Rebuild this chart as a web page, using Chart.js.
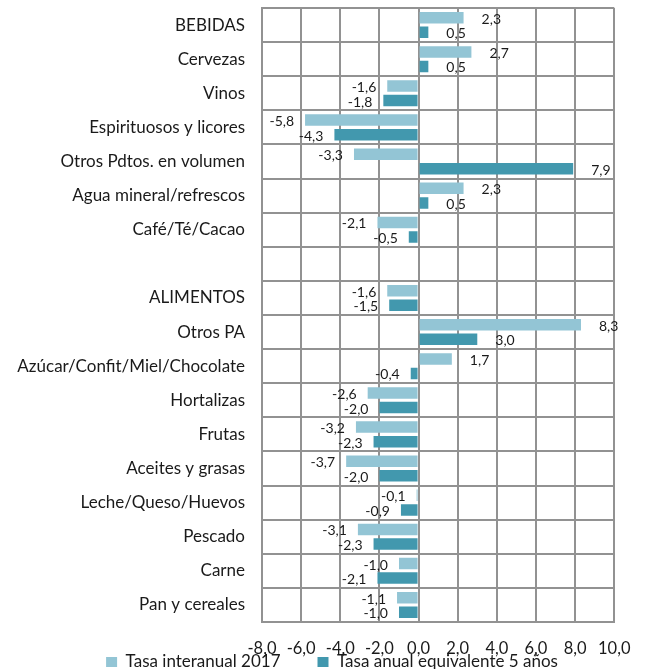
<!DOCTYPE html>
<html>
<head>
<meta charset="utf-8">
<script src="https://cdn.jsdelivr.net/npm/chart.js@4/dist/chart.umd.min.js"></script>
<style>
  body { margin: 0; background: #fff; }
  #wrap { width: 647px; height: 669px; }
</style>
</head>
<body>
<div id="wrap"><canvas id="tasasChart" width="647" height="669"></canvas></div>
<script>
// Categories (empty row separates bebidas / alimentos)
const categorias = [
    'BEBIDAS', 'Cervezas', 'Vinos', 'Espirituosos y licores', 'Otros Pdtos. en volumen',
    'Agua mineral/refrescos', 'Café/Té/Cacao', '',
    'ALIMENTOS', 'Otros PA', 'Azúcar/Confit/Miel/Chocolate', 'Hortalizas', 'Frutas',
    'Aceites y grasas', 'Leche/Queso/Huevos', 'Pescado', 'Carne', 'Pan y cereales'
];
const tasaInteranual2017 = [2.3, 2.7, -1.6, -5.8, -3.3, 2.3, -2.1, null,
    -1.6, 8.3, 1.7, -2.6, -3.2, -3.7, -0.1, -3.1, -1.0, -1.1];
const tasaAnual5Anos = [0.5, 0.5, -1.8, -4.3, 7.9, 0.5, -0.5, null,
    -1.5, 3.0, -0.4, -2.0, -2.3, -2.0, -0.9, -2.3, -2.1, -1.0];
const ejeMin = -8;
const ejeMax = 10;
const ejePaso = 2;

const FONT = 'Lato';
const gridColor = '#929292';

function fmt(v) {
    return v.toFixed(1).replace('.', ',');
}

// Value labels next to the end of each bar
const valueLabels = {
    id: 'valueLabels',
    afterDatasetsDraw(chart) {
        const ctx = chart.ctx;
        ctx.save();
        ctx.font = '14px ' + FONT;
        ctx.fillStyle = '#1a1a1a';
        ctx.textBaseline = 'middle';
        chart.data.datasets.forEach((ds, i) => {
            const meta = chart.getDatasetMeta(i);
            meta.data.forEach((bar, j) => {
                const v = ds.data[j];
                if (v === null || v === undefined) return;
                if (v >= 0) {
                    ctx.textAlign = 'left';
                    ctx.fillText(fmt(v), bar.x + 18, bar.y + 1.5);
                } else {
                    ctx.textAlign = 'right';
                    ctx.fillText(fmt(v), bar.x - 11, bar.y + 1.5);
                }
            });
        });
        ctx.restore();
    }
};

// Legend sits lower/left of where Chart.js would put it
const legendPlace = {
    id: 'legendPlace',
    afterLayout(chart) {
        const lg = chart.legend;
        if (!lg) return;
        lg.top = 616.5;
        lg.left = 49;
    }
};

const ctx = document.getElementById('tasasChart').getContext('2d');
const tasasChart = new Chart(ctx, {
    type: 'bar',
    data: {
        labels: categorias,
        datasets: [{
            label: 'Tasa interanual 2017',
            data: tasaInteranual2017,
            backgroundColor: '#93c5d5',
            categoryPercentage: 0.853,
            barPercentage: 0.79
        }, {
            label: 'Tasa anual equivalente 5 años',
            data: tasaAnual5Anos,
            backgroundColor: '#4298ae',
            categoryPercentage: 0.853,
            barPercentage: 0.79
        }]
    },
    options: {
        indexAxis: 'y',
        responsive: false,
        animation: false,
        layout: {
            padding: { left: 0, right: 32, top: 8, bottom: 0 }
        },
        scales: {
            x: {
                min: ejeMin,
                max: ejeMax,
                afterFit: scale => { scale.height = 35; },
                ticks: {
                    stepSize: ejePaso,
                    padding: 16.5,
                    color: '#1a1a1a',
                    font: { family: FONT, size: 16.5 },
                    callback: v => fmt(v)
                },
                grid: { color: gridColor, lineWidth: 2, drawTicks: false },
                border: { color: gridColor, width: 2 }
            },
            y: {
                afterFit: scale => {
                    scale.width = 262;
                    scale.paddingTop = 0;
                    scale.paddingBottom = 0;
                },
                ticks: {
                    padding: 17,
                    color: '#1a1a1a',
                    font: { family: FONT, size: 17 }
                },
                grid: { color: gridColor, lineWidth: 2, drawTicks: false, offset: true },
                border: { color: gridColor, width: 2 }
            }
        },
        plugins: {
            legend: {
                position: 'bottom',
                maxHeight: 12,
                labels: {
                    boxWidth: 11,
                    boxHeight: 10,
                    padding: 37,
                    color: '#1a1a1a',
                    font: { family: FONT, size: 17 }
                }
            },
            tooltip: { enabled: false }
        }
    },
    plugins: [valueLabels, legendPlace]
});
</script>
</body>
</html>
